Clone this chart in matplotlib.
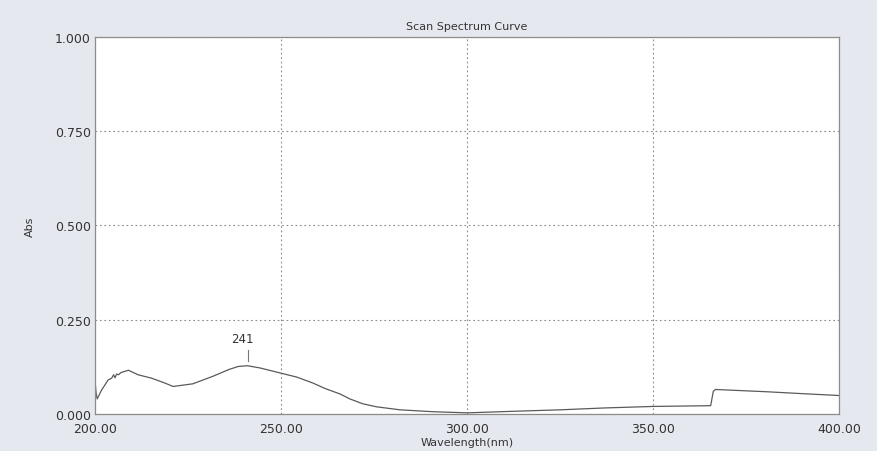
import matplotlib
matplotlib.use('Agg')
import matplotlib.pyplot as plt
import numpy as np

# wavelength (nm) and absorbance
wavelength = [200.0, 200.3, 200.6, 201.8, 203.0, 203.5, 204.5, 205.0, 205.4, 205.8, 206.3,
              207.0, 209.0, 211.6, 215.2, 218.8, 221.0, 226.3, 231.7, 236.0, 238.5,
              241.0, 244.4, 249.7, 254.2, 258.6, 262.0, 265.9, 268.5, 272.0, 275.7,
              282.0, 290.9, 300.0, 312.0, 325.0, 337.0, 350.0, 365.5, 366.2, 366.8,
              380.5, 390.0, 400.0]
absorbance = [0.090, 0.055, 0.040, 0.064, 0.082, 0.090, 0.095, 0.104, 0.096, 0.106, 0.104,
              0.110, 0.116, 0.104, 0.095, 0.082, 0.073, 0.080, 0.100, 0.118, 0.126,
              0.128, 0.122, 0.109, 0.098, 0.082, 0.067, 0.053, 0.040, 0.027, 0.019,
              0.011, 0.006, 0.003, 0.007, 0.011, 0.016, 0.020, 0.022, 0.060, 0.065,
              0.059, 0.054, 0.049]
peak_wl = 241
x_ticks = [200, 250, 300, 350, 400]
y_ticks = [0.0, 0.25, 0.5, 0.75, 1.0]

fig = plt.figure(figsize=(8.77, 4.52), dpi=100)
fig.patch.set_facecolor('#e6e8ef')
ax = fig.add_axes([0.1083, 0.0819, 0.8484, 0.834])
ax.set_facecolor('white')

ax.plot(wavelength, absorbance, color='#5a5a5a', lw=0.9)

ax.set_xlim(200, 400)
ax.set_ylim(0, 1)
ax.set_xticks(x_ticks)
ax.set_yticks(y_ticks)
ax.set_xticklabels(['%.2f' % v for v in x_ticks])
ax.set_yticklabels(['%.3f' % v for v in y_ticks])
ax.tick_params(length=0, labelsize=9, colors='#333333')
ax.tick_params(axis='x', pad=6)
ax.tick_params(axis='y', pad=3)
for lbl in ax.get_yticklabels():
    lbl.set_verticalalignment('center_baseline')
ax.grid(True, color='#8a8a8a', linestyle=(0, (1.5, 2.5)), lw=0.8)
for s in ax.spines.values():
    s.set_color('#8c8c8c')
    s.set_linewidth(0.9)

# peak marker
peak_abs = np.interp(peak_wl, wavelength, absorbance)
ax.plot([peak_wl, peak_wl], [peak_abs + 0.012, peak_abs + 0.043], color='#777777', lw=0.8)
ax.text(peak_wl - 1.5, peak_abs + 0.055, str(peak_wl), ha='center', va='bottom',
        fontsize=8.5, color='#333333')

ax.set_title('Scan Spectrum Curve', fontsize=8, color='#333333', pad=6)
ax.set_xlabel('Wavelength(nm)', fontsize=8, color='#333333', labelpad=1)
ax.set_ylabel('Abs', fontsize=8, color='#333333', labelpad=14)

fig.savefig('out.png', dpi=100, facecolor=fig.get_facecolor())
